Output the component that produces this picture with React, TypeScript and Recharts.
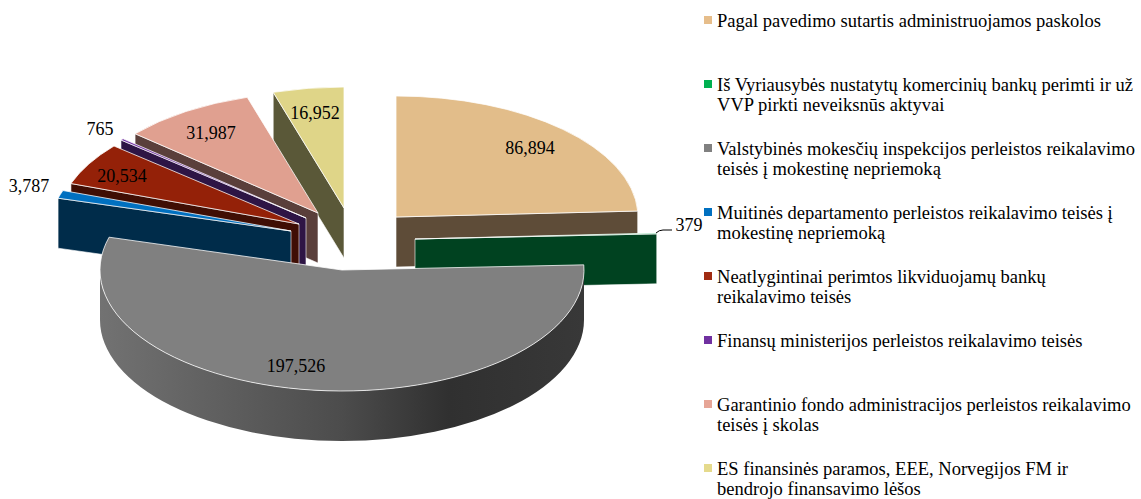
import { Pie, PieChart } from "recharts";

const CATEGORIES = [
  "Pagal pavedimo sutartis administruojamos paskolos",
  "Iš Vyriausybės nustatytų komercinių bankų perimti ir už\nVVP pirkti neveiksnūs aktyvai",
  "Valstybinės mokesčių inspekcijos perleistos reikalavimo\nteisės į mokestinę nepriemoką",
  "Muitinės departamento perleistos reikalavimo teisės į\nmokestinę nepriemoką",
  "Neatlygintinai perimtos likviduojamų bankų\nreikalavimo teisės",
  "Finansų ministerijos perleistos reikalavimo teisės",
  "Garantinio fondo administracijos perleistos reikalavimo\nteisės į skolas",
  "ES finansinės paramos, EEE, Norvegijos FM ir\nbendrojo finansavimo lėšos",
];
const VALUES = [86894, 379, 197526, 3787, 20534, 765, 31987, 16952];

const TOP_COLORS = ["#e2bd8a", "#00b050", "#808080", "#0070c0", "#942108", "#7030a0", "#e0a090", "#dfd588"];
const WALL_COLORS = ["#5e4c38", "#004220", "#505050", "#002c4a", "#3f0e04", "#2e1545", "#5a3f3b", "#5a5838"];
const LEGEND_COLORS = ["#e6bd8a", "#00b050", "#808080", "#0070c0", "#a02c12", "#7030a0", "#e6a596", "#e5da8c"];

const WIDTH = 1141;
const HEIGHT = 499;
const FONT = '"Liberation Serif", "Times New Roman", serif';

// pie centre and squash of the tilted disc
const CX = 345;
const CY = 225;
const RX = 242;
const RY = 121;
const DEPTH = 50;

// how far each slice is pulled out of the pie (exploded look)
const EXPLODE: [number, number][] = [
  [51, -8],
  [70, 14],
  [-3, 45],
  [-54, 6],
  [-46, -1],
  [-39, -7],
  [-27, -12],
  [-1, -17],
];

// back to front, a slice has to cover the walls of the one behind it
const DRAW_ORDER = [0, 1, 7, 6, 5, 4, 3, 2];

const LABEL_POS: [number, number][] = [
  [530, 148],
  [689, 225],
  [296, 366],
  [29, 186],
  [122, 176],
  [100, 129],
  [211, 133],
  [315, 113],
];

const tableData = CATEGORIES.map((name, i) => ({ name, value: VALUES[i] }));

const rad = (deg: number) => (deg * Math.PI) / 180;

function SliceShape(props: any) {
  const { index, startAngle, endAngle } = props;
  const [dx, dy] = EXPLODE[index];
  const ax = CX + dx;
  const ay = CY + dy;
  // clockwise from 12 o'clock
  const t1 = 90 - startAngle;
  const t2 = 90 - endAngle;
  const px = (t: number) => ax + RX * Math.sin(rad(t));
  const py = (t: number) => ay - RY * Math.cos(rad(t));
  const large = t2 - t1 > 180 ? 1 : 0;

  const topPath = `M${ax},${ay} L${px(t1)},${py(t1)} A${RX},${RY} 0 ${large} 1 ${px(t2)},${py(t2)} Z`;
  const radialWall = (t: number) =>
    `M${ax},${ay} L${px(t)},${py(t)} L${px(t)},${py(t) + DEPTH} L${ax},${ay + DEPTH} Z`;

  // a cut face only shows when it turns towards the viewer
  const showStart = t1 > 180 && t1 < 360;
  const showEnd = t2 > 0 && t2 < 180;

  // only the front half of the rim can be seen
  const r1 = Math.max(t1, 90);
  const r2 = Math.min(t2, 270);
  const rimPath =
    r2 > r1
      ? `M${px(r1)},${py(r1)} A${RX},${RY} 0 0 1 ${px(r2)},${py(r2)} L${px(r2)},${py(r2) + DEPTH} A${RX},${RY} 0 0 0 ${px(r1)},${py(r1) + DEPTH} Z`
      : null;

  return (
    <g>
      <defs>
        <linearGradient id={`rim-${index}`} gradientUnits="userSpaceOnUse" x1={ax - RX} y1={0} x2={ax + RX} y2={0}>
          <stop offset="0" stopColor="#727272" />
          <stop offset="0.5" stopColor="#4c4c4c" />
          <stop offset="0.72" stopColor="#303030" />
          <stop offset="1" stopColor="#383838" />
        </linearGradient>
      </defs>
      {showStart && <path d={radialWall(t1)} fill={WALL_COLORS[index]} stroke="#fff" strokeWidth={0.75} strokeOpacity={0.8} />}
      {showEnd && <path d={radialWall(t2)} fill={WALL_COLORS[index]} stroke="#fff" strokeWidth={0.75} strokeOpacity={0.8} />}
      {rimPath && <path d={rimPath} fill={`url(#rim-${index})`} />}
      <path d={topPath} fill={TOP_COLORS[index]} stroke="#fff" strokeWidth={0.9} strokeOpacity={0.85} strokeLinejoin="round" />
    </g>
  );
}

function SliceLabel(props: any) {
  const { index, value } = props;
  const [x, y] = LABEL_POS[index];
  return (
    <g>
      {index === 1 && <path d="M656,233 Q659,230 663,230 L672,230" fill="none" stroke="#000" strokeWidth={1} />}
      <text x={x} y={y} textAnchor="middle" dominantBaseline="central" fill="#000" fontFamily={FONT} fontSize={18}>
        {Number(value).toLocaleString("en-US")}
      </text>
    </g>
  );
}

export default function App() {
  return (
    <div style={{ position: "absolute", left: 0, top: 0, width: WIDTH, height: HEIGHT, overflow: "hidden", background: "#fff" }}>
      <PieChart width={WIDTH} height={HEIGHT} margin={{ top: 0, right: 0, bottom: 0, left: 0 }}>
        {DRAW_ORDER.map((sliceIndex, i) => {
          const shape = (props: any) => (props.index === sliceIndex ? <SliceShape {...props} /> : <g />);
          return (
            <Pie
              key={sliceIndex}
              data={tableData}
              dataKey="value"
              nameKey="name"
              cx={CX}
              cy={CY}
              outerRadius={RX}
              startAngle={90}
              endAngle={-270}
              stroke="none"
              shape={shape}
              activeShape={shape}
              inactiveShape={shape}
              label={i === DRAW_ORDER.length - 1 ? SliceLabel : false}
              labelLine={false}
              isAnimationActive={false}
            />
          );
        })}
      </PieChart>

      {CATEGORIES.map((name, i) => (
        <div key={name}>
          <span
            style={{
              position: "absolute",
              left: 704,
              top: 16 + i * 64,
              width: 8,
              height: 8,
              backgroundColor: LEGEND_COLORS[i],
            }}
          />
          <div
            style={{
              position: "absolute",
              left: 717,
              top: 11 + i * 64,
              width: 424,
              fontFamily: FONT,
              fontSize: 18.55,
              lineHeight: "20px",
              color: "#000",
              whiteSpace: "pre",
            }}
          >
            {name}
          </div>
        </div>
      ))}
    </div>
  );
}
